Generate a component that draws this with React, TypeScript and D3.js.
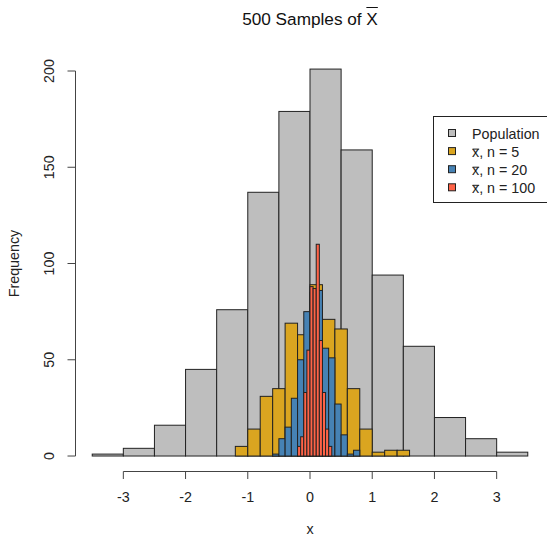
import React from "react";
import * as d3 from "d3";

// histogram breaks and counts
const popBreaks = [-3.5, -3, -2.5, -2, -1.5, -1, -0.5, 0, 0.5, 1, 1.5, 2, 2.5, 3, 3.5];
const popCounts = [1, 4, 16, 45, 76, 137, 179, 201, 159, 94, 57, 20, 9, 2];

const n5Breaks = [-1.2, -1, -0.8, -0.6, -0.4, -0.2, 0, 0.2, 0.4, 0.6, 0.8, 1, 1.2, 1.4, 1.6];
const n5Counts = [5, 14, 31, 35, 69, 63, 89, 71, 66, 35, 14, 2, 3, 3];

const n20Breaks = [-0.6, -0.5, -0.4, -0.3, -0.2, -0.1, 0, 0.1, 0.2, 0.3, 0.4, 0.5, 0.6, 0.7, 0.8];
const n20Counts = [1, 9, 15, 30, 50, 75, 85, 86, 56, 51, 27, 11, 1, 3];

const n100Breaks = [-0.2, -0.15, -0.1, -0.05, 0, 0.05, 0.1, 0.15, 0.2, 0.25, 0.3, 0.35];
const n100Counts = [5, 10, 33, 55, 88, 87, 110, 60, 33, 14, 5];

const xTicks = [-3, -2, -1, 0, 1, 2, 3];
const yTicks = [0, 50, 100, 150, 200];

const series = [
  { label: "Population", n: "", breaks: popBreaks, counts: popCounts, color: "#BEBEBE" },
  { label: "", n: ", n = 5", breaks: n5Breaks, counts: n5Counts, color: "#DAA520" },
  { label: "", n: ", n = 20", breaks: n20Breaks, counts: n20Counts, color: "#4682B4" },
  { label: "", n: ", n = 100", breaks: n100Breaks, counts: n100Counts, color: "#FF6347" },
];

const W = 547;
const H = 538;
const font = "'Liberation Sans', Arial, Helvetica, sans-serif";
const fs = 14.3;
const titleFs = 17.2;

// width of a string in px, for placing the bars over x
const measure = (s: string, size: number) => {
  const ctx = document.createElement("canvas").getContext("2d");
  if (!ctx) return s.length * size * 0.55;
  ctx.font = `${size}px 'Liberation Sans', Arial, sans-serif`;
  return ctx.measureText(s).width;
};

export default function App() {
  const x = d3.scaleLinear().domain([-3.78, 3.78]).range([74.8, 545.2]);
  const y = d3.scaleLinear().domain([-8.04, 209.04]).range([471.5, 53.6]);

  const legendX = 433.5;
  const legendY = 116.5;

  const titleA = "500 Samples of ";
  const titleW = measure(titleA + "X", titleFs);
  const titleX0 = x(0) - titleW / 2 + measure(titleA, titleFs);
  const titleXW = measure("X", titleFs);
  const xW = measure("x", fs);

  return (
    <svg
      width={W}
      height={H}
      style={{ position: "absolute", left: 0, top: 0, background: "#fff" }}
      fontFamily={font}
    >
      {/* bars */}
      {series.map((s, si) => (
        <g key={si}>
          {s.counts.map((c, i) => (
            <rect
              key={i}
              x={x(s.breaks[i])}
              y={y(c)}
              width={x(s.breaks[i + 1]) - x(s.breaks[i])}
              height={y(0) - y(c)}
              fill={s.color}
              stroke="#222"
              strokeWidth={1}
            />
          ))}
        </g>
      ))}

      {/* x axis */}
      <g stroke="#444" strokeWidth={1}>
        <line x1={x(-3)} x2={x(3)} y1={471.5} y2={471.5} />
        {xTicks.map((t) => (
          <line key={t} x1={x(t)} x2={x(t)} y1={471.5} y2={479} />
        ))}
      </g>
      {xTicks.map((t) => (
        <text key={t} x={x(t)} y={502} fontSize={fs} textAnchor="middle" fill="#222">
          {t}
        </text>
      ))}
      <text x={x(0)} y={534} fontSize={fs} textAnchor="middle" fill="#222">
        x
      </text>

      {/* y axis */}
      <g stroke="#444" strokeWidth={1}>
        <line x1={75.5} x2={75.5} y1={y(0)} y2={y(200)} />
        {yTicks.map((t) => (
          <line key={t} x1={67.5} x2={75.5} y1={y(t)} y2={y(t)} />
        ))}
      </g>
      {yTicks.map((t) => (
        <text
          key={t}
          transform={`translate(54,${y(t)}) rotate(-90)`}
          fontSize={fs}
          textAnchor="middle"
          fill="#222"
        >
          {t}
        </text>
      ))}
      <text
        transform={`translate(19,${(y(0) + y(200)) / 2}) rotate(-90)`}
        fontSize={fs}
        textAnchor="middle"
        fill="#222"
      >
        Frequency
      </text>

      {/* title */}
      <text x={x(0)} y={25} fontSize={titleFs} textAnchor="middle" fill="#111">
        {titleA + "X"}
      </text>
      <line x1={titleX0} x2={titleX0 + titleXW} y1={7.5} y2={7.5} stroke="#111" strokeWidth={1} />

      {/* legend */}
      <rect
        x={legendX}
        y={legendY}
        width={W - legendX + 5}
        height={86}
        fill="#fff"
        stroke="#222"
        strokeWidth={1}
      />
      {series.map((s, i) => {
        const cy = 133 + i * 18.1;
        const base = cy + 6;
        return (
          <g key={i}>
            <rect x={448.5} y={cy - 3.5} width={7} height={7} fill={s.color} stroke="#222" strokeWidth={1} />
            <text x={472} y={base} fontSize={fs} fill="#222">
              {s.label ? s.label : "x" + s.n}
            </text>
            {!s.label && (
              <line x1={472.5} x2={472 + xW} y1={base - 8} y2={base - 8} stroke="#222" strokeWidth={1} />
            )}
          </g>
        );
      })}
    </svg>
  );
}
